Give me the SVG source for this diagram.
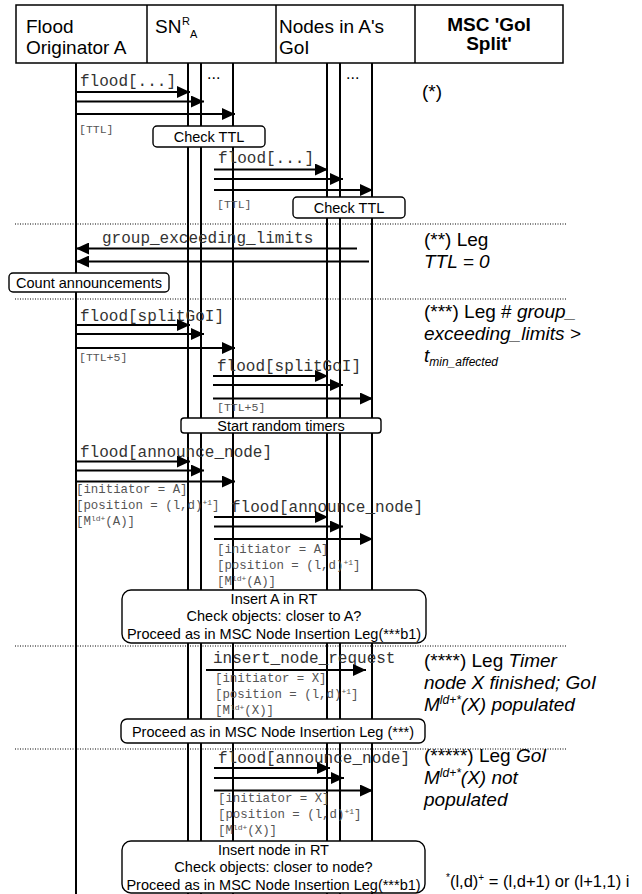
<svg xmlns="http://www.w3.org/2000/svg" width="642" height="894" viewBox="0 0 642 894">
<style>
.hd{font-family:"Liberation Sans",Arial,sans-serif;font-size:19px;fill:#000}
.hb{font-family:"Liberation Sans",Arial,sans-serif;font-size:19px;font-weight:bold;fill:#000}
.cm{font-family:"Liberation Sans",Arial,sans-serif;font-size:19px;fill:#000}
.it{font-style:italic}
.bx{font-family:"Liberation Sans",Arial,sans-serif;font-size:14.5px;fill:#000;text-anchor:middle}
.ms{font-family:"Liberation Mono","Courier New",monospace;font-size:16px;fill:#333}
.sm{font-family:"Liberation Mono","Courier New",monospace;font-size:11.5px;fill:#555}
.pm{font-family:"Liberation Mono","Courier New",monospace;font-size:12.4px;fill:#555}
.ll{stroke:#000;stroke-width:2;fill:none}
.ar{stroke:#000;stroke-width:1.8;fill:none;marker-end:url(#ah)}
.dl{stroke:#000;stroke-width:1;stroke-dasharray:1 1.5;fill:none}
.nb{fill:#fff;stroke:#000;stroke-width:1.4}
</style>
<defs>
<marker id="ah" viewBox="0 0 13 12" refX="13" refY="6" markerWidth="13" markerHeight="12" markerUnits="userSpaceOnUse" orient="auto">
<path d="M0,0 L13,6 L0,12 z" fill="#000"/>
</marker>
</defs>
<rect width="642" height="894" fill="#fff"/>

<g id="header">
<rect x="16" y="5" width="547" height="58" fill="#fff" stroke="#000" stroke-width="1.5"/>
<line x1="147" y1="5" x2="147" y2="63" stroke="#000" stroke-width="1.5"/>
<line x1="276" y1="5" x2="276" y2="63" stroke="#000" stroke-width="1.5"/>
<line x1="415" y1="5" x2="415" y2="63" stroke="#000" stroke-width="1.5"/>
<text class="hd" x="26" y="33">Flood</text>
<text class="hd" x="26" y="54">Originator A</text>
<text class="hd" x="155" y="33">SN</text>
<text class="hd" x="182" y="25" style="font-size:11px">R</text>
<text class="hd" x="190" y="38" style="font-size:11px">A</text>
<text class="hd" x="279" y="33">Nodes in A's</text>
<text class="hd" x="279" y="54">GoI</text>
<text class="hb" x="489" y="31" text-anchor="middle">MSC 'GoI</text>
<text class="hb" x="489" y="50" text-anchor="middle">Split'</text>
</g>

<g id="lifelines">
<line class="ll" x1="76" y1="63" x2="76" y2="894"/>
<line class="ll" x1="188" y1="63" x2="188" y2="894"/>
<line class="ll" x1="201" y1="63" x2="201" y2="894"/>
<line class="ll" x1="233" y1="63" x2="233" y2="894"/>
<line class="ll" x1="327" y1="63" x2="327" y2="894"/>
<line class="ll" x1="340" y1="63" x2="340" y2="894"/>
<line class="ll" x1="372" y1="63" x2="372" y2="894"/>
<text class="hd" x="207" y="79" style="font-size:16px">...</text>
<text class="hd" x="346" y="79" style="font-size:16px">...</text>
</g>

<g id="separators">
<line class="dl" x1="15" y1="224" x2="567" y2="224"/>
<line class="dl" x1="15" y1="299" x2="567" y2="299"/>
<line class="dl" x1="15" y1="646" x2="567" y2="646"/>
<line class="dl" x1="15" y1="749" x2="567" y2="749"/>
</g>

<g id="connectors">
<text class="ms" x="80" y="86">flood[...]</text>
<line class="ar" x1="76" y1="92" x2="190" y2="92"/>
<line class="ar" x1="76" y1="101.5" x2="204" y2="101.5"/>
<line class="ar" x1="76" y1="114" x2="235" y2="114"/>
<text class="sm" x="79" y="133">[TTL]</text>

<text class="ms" x="218" y="163">flood[...]</text>
<line class="ar" x1="214" y1="169.5" x2="328" y2="169.5"/>
<line class="ar" x1="214" y1="179" x2="343" y2="179"/>
<line class="ar" x1="214" y1="190" x2="373" y2="190"/>
<text class="sm" x="217" y="208">[TTL]</text>

<text class="ms" x="102" y="243">group_exceeding_limits</text>
<line class="ar" x1="357" y1="248.5" x2="76" y2="248.5"/>
<line class="ar" x1="369" y1="261.5" x2="76" y2="261.5"/>

<text class="ms" x="80" y="321">flood[splitGoI]</text>
<line class="ar" x1="76" y1="325" x2="190" y2="325"/>
<line class="ar" x1="76" y1="334" x2="204" y2="334"/>
<line class="ar" x1="76" y1="348" x2="235" y2="348"/>
<text class="sm" x="79" y="361">[TTL+5]</text>

<text class="ms" x="217" y="371">flood[splitGoI]</text>
<line class="ar" x1="213" y1="376" x2="328" y2="376"/>
<line class="ar" x1="213" y1="385" x2="343" y2="385"/>
<line class="ar" x1="213" y1="398.5" x2="373" y2="398.5"/>
<text class="sm" x="217" y="411">[TTL+5]</text>

<text class="ms" x="80" y="457">flood[announce_node]</text>
<line class="ar" x1="76" y1="461.5" x2="190" y2="461.5"/>
<line class="ar" x1="76" y1="470.5" x2="204" y2="470.5"/>
<line class="ar" x1="76" y1="481.5" x2="235" y2="481.5"/>
<text class="pm" x="76" y="493">[initiator = A]</text>
<text class="pm" x="76" y="509">[position = (l,d)<tspan dy="-4" style="font-size:8px">+1</tspan><tspan dy="4">]</tspan></text>
<text class="pm" x="76" y="525">[M<tspan dy="-4" style="font-size:8px">ld+</tspan><tspan dy="4">(A)]</tspan></text>

<text class="ms" x="231" y="512">flood[announce_node]</text>
<line class="ar" x1="214" y1="517" x2="328" y2="517"/>
<line class="ar" x1="214" y1="526.5" x2="343" y2="526.5"/>
<line class="ar" x1="214" y1="539" x2="373" y2="539"/>
<text class="pm" x="217" y="553">[initiator = A]</text>
<text class="pm" x="217" y="569">[position = (l,d)<tspan dy="-4" style="font-size:8px">+1</tspan><tspan dy="4">]</tspan></text>
<text class="pm" x="217" y="585">[M<tspan dy="-4" style="font-size:8px">ld+</tspan><tspan dy="4">(A)]</tspan></text>

<text class="ms" x="213" y="663">insert_node_request</text>
<line class="ar" x1="206" y1="670" x2="366" y2="670"/>
<text class="pm" x="215" y="682">[initiator = X]</text>
<text class="pm" x="215" y="698">[position = (l,d)<tspan dy="-4" style="font-size:8px">+1</tspan><tspan dy="4">]</tspan></text>
<text class="pm" x="215" y="714">[M<tspan dy="-4" style="font-size:8px">ld+</tspan><tspan dy="4">(X)]</tspan></text>

<text class="ms" x="218" y="763">flood[announce_node]</text>
<line class="ar" x1="214" y1="768" x2="330" y2="768"/>
<line class="ar" x1="214" y1="778" x2="344" y2="778"/>
<line class="ar" x1="214" y1="790.5" x2="373" y2="790.5"/>
<text class="pm" x="218" y="802">[initiator = X]</text>
<text class="pm" x="218" y="818">[position = (l,d)<tspan dy="-4" style="font-size:8px">+1</tspan><tspan dy="4">]</tspan></text>
<text class="pm" x="218" y="834">[M<tspan dy="-4" style="font-size:8px">ld+</tspan><tspan dy="4">(X)]</tspan></text>
</g>

<g id="check-ttl-1">
<rect class="nb" x="153" y="126" width="112" height="21" rx="4"/>
<text class="bx" x="209" y="142">Check TTL</text>
</g>
<g id="check-ttl-2">
<rect class="nb" x="293" y="197" width="112" height="21" rx="4"/>
<text class="bx" x="349" y="213">Check TTL</text>
</g>
<g id="count-announcements">
<rect class="nb" x="9" y="273" width="160" height="19" rx="4"/>
<text class="bx" x="89" y="287.5">Count announcements</text>
</g>
<g id="start-random-timers">
<rect class="nb" x="181" y="418" width="200" height="15" rx="3"/>
<text class="bx" x="281" y="430.5">Start random timers</text>
</g>
<g id="insert-a">
<rect class="nb" x="122" y="590" width="304" height="53" rx="9"/>
<text class="bx" x="274" y="603.5">Insert A in RT</text>
<text class="bx" x="274" y="621">Check objects: closer to A?</text>
<text class="bx" x="274" y="639">Proceed as in MSC Node Insertion Leg(***b1)</text>
</g>
<g id="proceed-leg3">
<rect class="nb" x="121" y="719" width="304" height="24" rx="6"/>
<text class="bx" x="273" y="736.5">Proceed as in MSC Node Insertion Leg (***)</text>
</g>
<g id="insert-node">
<rect class="nb" x="122" y="841" width="303" height="52" rx="9"/>
<text class="bx" x="273.5" y="855">Insert node in RT</text>
<text class="bx" x="273.5" y="872">Check objects: closer to node?</text>
<text class="bx" x="273.5" y="890">Proceed as in MSC Node Insertion Leg(***b1)</text>
</g>

<g id="comment-1">
<text class="cm" x="422" y="98">(*)</text>
</g>
<g id="comment-2">
<text class="cm" x="424" y="246">(**) Leg</text>
<text class="cm it" x="424" y="268">TTL = 0</text>
</g>
<g id="comment-3">
<text class="cm" x="424" y="318">(***) Leg # <tspan class="it">group_</tspan></text>
<text class="cm it" x="424" y="340">exceeding_limits &gt;</text>
<text class="cm it" x="424" y="362">t<tspan dy="4" style="font-size:12px">min_affected</tspan></text>
</g>
<g id="comment-4">
<text class="cm" x="424" y="667">(****) Leg <tspan class="it">Timer</tspan></text>
<text class="cm it" x="424" y="689">node X finished; GoI</text>
<text class="cm it" x="424" y="711">M<tspan dy="-7" style="font-size:12px">ld+*</tspan><tspan dy="7">(X) populated</tspan></text>
</g>
<g id="comment-5">
<text class="cm" x="424" y="762">(*****) Leg <tspan class="it">GoI</tspan></text>
<text class="cm it" x="424" y="784">M<tspan dy="-7" style="font-size:12px">ld+*</tspan><tspan dy="7">(X) not</tspan></text>
<text class="cm it" x="424" y="806">populated</text>
</g>
<g id="footnote">
<text class="cm" x="446" y="887" style="font-size:16.5px"><tspan dy="-6" style="font-size:10px">*</tspan><tspan dy="6">(l,d)</tspan><tspan dy="-6" style="font-size:10px">+</tspan><tspan dy="6"> = (l,d+1) or (l+1,1) i</tspan></text>
</g>
</svg>
